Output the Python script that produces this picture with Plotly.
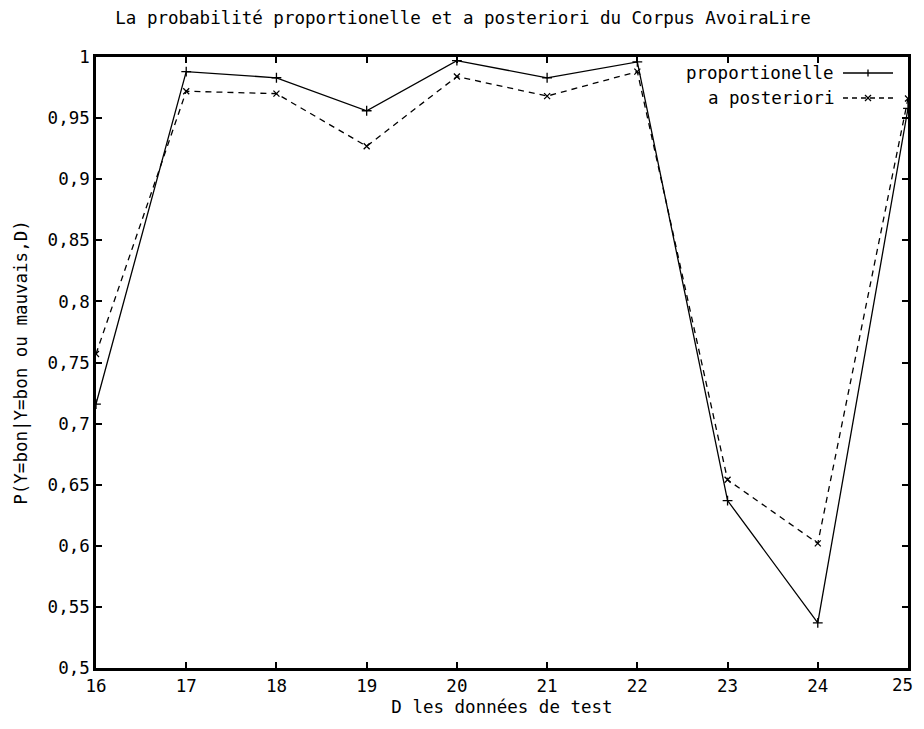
import plotly.graph_objects as go

jeux = [16, 17, 18, 19, 20, 21, 22, 23, 24, 25]
x_ticklabels = ["16", "17", "18", "19", "20", "21", "22", "23", "24", "25"]
proportionelle = [0.716, 0.988, 0.983, 0.956, 0.997, 0.983, 0.996, 0.637, 0.537, 0.958]
a_posteriori = [0.757, 0.972, 0.970, 0.927, 0.984, 0.968, 0.988, 0.654, 0.602, 0.966]
y_ticks = [0.5, 0.55, 0.6, 0.65, 0.7, 0.75, 0.8, 0.85, 0.9, 0.95, 1]
y_ticklabels = ["0,5", "0,55", "0,6", "0,65", "0,7", "0,75", "0,8", "0,85", "0,9", "0,95", "1"]

FONT = "DejaVu Sans Mono"
FS = 17.5
W, H = 908, 713
L, R, T, B = 88, 8, 49, 53
pw, ph = W - L - R, H - T - B

fig = go.Figure()
fig.add_trace(go.Scatter(
    x=jeux, y=proportionelle, mode="lines+markers", name="proportionelle",
    line=dict(color="black", width=1.3),
    marker=dict(symbol="cross-thin", size=7, line=dict(color="black", width=1.3)),
))
fig.add_trace(go.Scatter(
    x=jeux, y=a_posteriori, mode="lines+markers", name="a posteriori",
    line=dict(color="black", width=1.3, dash="6px,5px"),
    marker=dict(symbol="x-thin", size=6, line=dict(color="black", width=1.3)),
))

# custom legend (text right-aligned, sample on the right like gnuplot)
def px_x(p):
    return (p - L) / pw
def px_y(p):
    return 1 - (p - T) / ph

leg = [("proportionelle", "solid", "plus", 65), ("a posteriori", "5px,4px", "x", 90)]
for label, dash, sym, ypix in leg:
    yp = px_y(ypix)
    fig.add_annotation(x=px_x(828), y=yp, xref="paper", yref="paper", text=label,
                       showarrow=False, xanchor="right", yanchor="middle",
                       font=dict(family=FONT, size=FS, color="black"))
    fig.add_shape(type="line", xref="paper", yref="paper", x0=px_x(835), x1=px_x(885), y0=yp, y1=yp,
                  line=dict(color="black", width=1.3, dash=dash))
    cx = 860
    if sym == "plus":
        fig.add_shape(type="line", xref="paper", yref="paper", x0=px_x(cx), x1=px_x(cx),
                      y0=px_y(ypix - 3.5), y1=px_y(ypix + 3.5), line=dict(color="black", width=1.3))
    else:
        fig.add_shape(type="line", xref="paper", yref="paper", x0=px_x(cx - 3), x1=px_x(cx + 3),
                      y0=px_y(ypix - 3), y1=px_y(ypix + 3), line=dict(color="black", width=1.2))
        fig.add_shape(type="line", xref="paper", yref="paper", x0=px_x(cx - 3), x1=px_x(cx + 3),
                      y0=px_y(ypix + 3), y1=px_y(ypix - 3), line=dict(color="black", width=1.2))

# last x tick label drawn as annotation so it stays inside the page
shown_ticktext = x_ticklabels[:-1] + [""]
fig.add_annotation(x=jeux[-1], y=0, xref="x", yref="paper", text=x_ticklabels[-1],
                   showarrow=False, xanchor="right", yanchor="middle", xshift=7, yshift=-17,
                   font=dict(family=FONT, size=FS, color="black"))

fig.update_layout(
    width=W, height=H,
    paper_bgcolor="white", plot_bgcolor="white",
    margin=dict(l=L, r=R, t=T, b=B, autoexpand=False),
    showlegend=False,
    font=dict(family=FONT, size=FS, color="black"),
    title=dict(text="La probabilité proportionelle et a posteriori du Corpus AvoiraLire",
               x=(463 - 8) / W, xanchor="center", y=1 - 10 / H, yanchor="middle",
               font=dict(family=FONT, size=FS, color="black")),
    xaxis=dict(range=[16, 25], tickvals=jeux, ticktext=shown_ticktext, ticks="inside", ticklen=6,
               tickwidth=2, tickcolor="black", mirror="allticks", showline=True, linewidth=2.5,
               linecolor="black", showgrid=False, zeroline=False, automargin=False,
               title=dict(text="D les données de test", standoff=6,
                          font=dict(family=FONT, size=FS))),
    yaxis=dict(range=[0.5, 1], tickvals=y_ticks, ticktext=y_ticklabels, ticks="inside",
               ticklen=6, tickwidth=2, tickcolor="black", mirror="allticks", showline=True,
               linewidth=2.5, linecolor="black", showgrid=False, zeroline=False, automargin=False,
               title=dict(text="P(Y=bon|Y=bon ou mauvais,D)", standoff=16,
                          font=dict(family=FONT, size=FS))),
)
fig.write_html("out.html")
